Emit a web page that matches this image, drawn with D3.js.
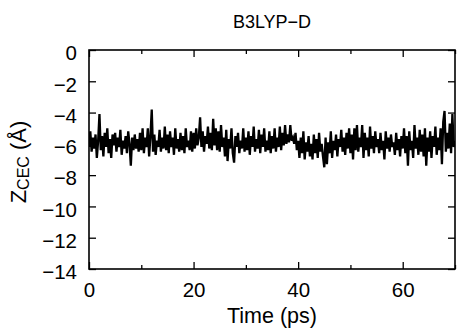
<!DOCTYPE html>
<html>
<head>
<meta charset="utf-8">
<script src="https://cdn.jsdelivr.net/npm/d3@7"></script>
<style>
  body { margin: 0; background: #fff; }
  svg text { font-family: "Liberation Sans", Arial, Helvetica, sans-serif; fill: #000; }
</style>
</head>
<body>
<script>
// ====== data (one value every 0.25 ps) ======
const timeStep = 0.25
const zCec = [
  -6.2, -5.2, -6.5, -5.6, -6.3, -5.4, -6.9, -5.8, -4.1, -6.4, -5.5, -6.8, -5.3, -6.2, -5.0, -6.6, -5.7, -6.9, -5.4, -6.1,
  -5.3, -6.5, -5.6, -6.2, -5.1, -6.7, -5.8, -6.3, -5.5, -6.6, -5.2, -6.0, -7.4, -5.6, -6.4, -5.4, -6.3, -5.7, -6.5, -5.3,
  -6.4, -5.0, -6.6, -5.6, -6.2, -5.0, -6.8, -5.5, -3.8, -6.5, -5.4, -6.7, -5.8, -6.2, -5.1, -6.5, -5.6, -6.3, -4.9, -6.4,
  -5.4, -6.6, -5.2, -6.2, -5.6, -6.7, -5.0, -6.3, -5.7, -6.5, -5.3, -6.4, -5.5, -6.6, -5.0, -6.2, -5.8, -6.4, -5.2, -6.5,
  -5.3, -6.3, -5.0, -6.1, -5.6, -4.3, -6.2, -5.2, -6.5, -5.5, -6.0, -4.9, -6.3, -5.3, -6.4, -4.4, -6.1, -5.0, -6.4, -5.2,
  -6.5, -4.8, -6.2, -5.6, -6.8, -5.1, -7.1, -5.7, -6.3, -5.0, -6.6, -7.2, -5.5, -6.2, -5.3, -6.6, -5.8, -6.3, -5.0, -6.5,
  -5.6, -6.4, -5.2, -6.7, -5.5, -6.2, -4.9, -6.5, -5.7, -6.3, -5.1, -6.6, -5.4, -6.2, -5.0, -6.5, -5.8, -6.4, -5.2, -6.6,
  -5.5, -6.3, -5.0, -6.5, -5.6, -6.2, -4.9, -6.4, -5.3, -6.1, -4.8, -6.0, -5.4, -5.9, -4.8, -5.8, -5.6, -6.0, -5.3, -6.4,
  -5.8, -6.9, -5.6, -6.6, -5.2, -7.0, -5.9, -6.5, -5.5, -6.8, -6.0, -7.0, -5.4, -6.6, -5.7, -6.9, -5.3, -6.5, -6.0, -6.8,
  -7.5, -5.6, -7.3, -5.9, -6.6, -5.2, -6.9, -5.8, -6.4, -5.4, -6.8, -5.7, -6.2, -5.1, -6.5, -5.6, -6.7, -5.3, -6.3, -5.0,
  -6.6, -5.4, -7.0, -5.0, -6.4, -4.8, -6.5, -5.6, -6.2, -4.8, -6.9, -5.3, -6.4, -5.6, -6.8, -4.9, -6.3, -5.5, -6.6, -5.2,
  -6.2, -5.7, -6.6, -5.3, -6.4, -5.8, -7.0, -5.2, -6.3, -5.6, -6.5, -5.4, -6.2, -5.9, -6.7, -5.3, -6.4, -5.7, -6.8, -5.5,
  -6.3, -5.0, -6.6, -5.5, -7.4, -5.2, -6.4, -5.8, -6.9, -4.8, -6.3, -5.6, -6.7, -5.1, -6.5, -5.4, -6.8, -5.0, -7.4, -5.6,
  -6.5, -5.2, -6.9, -5.5, -6.2, -4.9, -6.7, -5.6, -6.4, -5.0, -7.3, -4.6, -3.9, -6.5, -5.3, -6.3, -4.7, -6.6, -4.1, -6.2,
  -5.8
]
const xTicks = [0, 20, 40, 60]
const xMinorTicks = [10, 30, 50, 70]
const yTicks = [0, -2, -4, -6, -8, -10, -12, -14]
const title = 'B3LYP\u2212D'
const xLabel = 'Time (ps)'

const data = zCec.map((v, i) => ({ t: i * timeStep, z: v }))

// ====== layout ======
const W = 457, H = 328
const plotL = 89, plotR = 455, plotT = 50, plotB = 269

const svg = d3.select('body').append('svg')
    .attr('width', W)
    .attr('height', H)

const x = d3.scaleLinear().domain([0, 70]).range([plotL, plotR])
const y = d3.scaleLinear().domain([-14, 0]).range([plotB, plotT])

// trace
svg.append('clipPath').attr('id', 'clip')
    .append('rect')
    .attr('x', plotL).attr('y', plotT)
    .attr('width', plotR - plotL).attr('height', plotB - plotT)

const line = d3.line()
    .x(d => x(d.t))
    .y(d => y(d.z))

svg.append('path')
    .datum(data)
    .attr('clip-path', 'url(#clip)')
    .attr('fill', 'none')
    .attr('stroke', '#000')
    .attr('stroke-width', 2.3)
    .attr('stroke-linejoin', 'miter')
    .attr('d', line)

// axes - gnuplot style, ticks pointing in on all four sides
const fmt = d => d3.format('d')(d)

const gLeft = svg.append('g')
    .attr('transform', 'translate(' + plotL + ',0)')
    .call(d3.axisLeft(y).tickValues(yTicks).tickSize(-7).tickPadding(12).tickFormat(fmt))
gLeft.selectAll('text').attr('dy', '0.48em')

svg.append('g')
    .attr('transform', 'translate(' + plotR + ',0)')
    .call(d3.axisRight(y).tickValues(yTicks).tickSize(-7).tickFormat(''))

svg.append('g')
    .attr('transform', 'translate(0,' + plotB + ')')
    .call(d3.axisBottom(x).tickValues(xTicks).tickSize(-7).tickPadding(13).tickFormat(fmt))

svg.append('g')
    .attr('transform', 'translate(0,' + plotB + ')')
    .call(d3.axisBottom(x).tickValues(xMinorTicks).tickSize(-4).tickFormat(''))

svg.append('g')
    .attr('transform', 'translate(0,' + plotT + ')')
    .call(d3.axisTop(x).tickValues(xTicks).tickSize(-7).tickFormat(''))

svg.append('g')
    .attr('transform', 'translate(0,' + plotT + ')')
    .call(d3.axisTop(x).tickValues(xMinorTicks).tickSize(-4).tickFormat(''))

svg.selectAll('.domain').remove()
svg.selectAll('.tick line').attr('stroke', '#000').attr('stroke-width', 1.3)
svg.selectAll('.tick text')
    .attr('font-size', 20.5)
    .attr('font-family', '"Liberation Sans", Arial, Helvetica, sans-serif')

// frame
svg.append('rect')
    .attr('x', plotL).attr('y', plotT)
    .attr('width', plotR - plotL).attr('height', plotB - plotT)
    .attr('fill', 'none')
    .attr('stroke', '#000')
    .attr('stroke-width', 1.6)

// title
svg.append('text')
    .attr('x', (plotL + plotR) / 2)
    .attr('y', 28)
    .attr('text-anchor', 'middle')
    .attr('font-size', 18)
    .text(title)

// x label
svg.append('text')
    .attr('x', (plotL + plotR) / 2)
    .attr('y', 323)
    .attr('text-anchor', 'middle')
    .attr('font-size', 21.5)
    .text(xLabel)

// y label: Z_CEC (Å)
const yl = svg.append('text')
    .attr('transform', 'translate(26,162) rotate(-90)')
    .attr('text-anchor', 'middle')
    .attr('font-size', 22)
yl.append('tspan').text('Z')
yl.append('tspan').attr('font-size', 16).attr('baseline-shift', '-3').text('CEC')
yl.append('tspan').text(' (\u00C5)')
</script>
</body>
</html>
